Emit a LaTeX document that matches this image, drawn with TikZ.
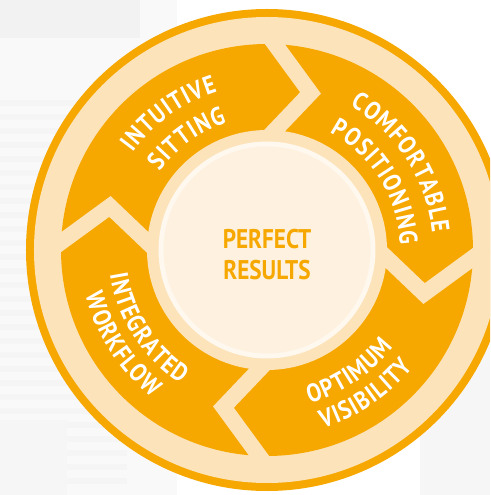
\documentclass[tikz,border=0pt]{standalone}
\usepackage{fontspec}
\setmainfont{PT Sans}
\newfontfamily\dinfont[FakeStretch=0.86]{PT Sans}
\usepackage{tikz}
\usetikzlibrary{calc,decorations.text}

\definecolor{ringorange}{HTML}{F6A800}
\definecolor{ringpeach}{HTML}{FDE3BA}
\definecolor{corefill}{HTML}{FEF1DF}
\definecolor{corerim}{HTML}{FEF8EF}

\newcommand{\arcfont}{\dinfont\bfseries\fontsize{25.5}{25.5}\selectfont}

\tikzset{
  gapline/.style={draw=ringpeach, line width=16pt, miter limit=10},
  arclabel/.style={decorate, decoration={text effects along path, text={#1}, text align=center,
    text effects/.cd, text along path, characters={text=white, font=\arcfont, inner sep=0pt},
    character widths={font=\arcfont, inner xsep=0.6pt}}},
}

\begin{document}
\begin{tikzpicture}[x=1pt, y=1pt]
    \useasboundingbox (-267,-245) rectangle (223,250);
    \clip (-267,-245) rectangle (223,250);

    % Blurred backdrop
    \fill[white] (-267,-245) rectangle (223,250);
    \fill[gray!5] (-267,-245) rectangle (-90,250);
    \fill[gray!10] (-267,250) rectangle (-127,212);
    \foreach \y in {150,136,...,-240}
        \fill[gray!8] (-267,\y) rectangle (-140,\y-6);
    \fill[gray!7] (153,-80) rectangle (223,-245);
    \fill[gray!7] (-267,-170) rectangle (-200,-245);

    % Rings
    \fill[ringorange] (0,0) circle (241);
    \fill[ringpeach] (0,0) circle (233);
    \fill[ringorange] (0,0) circle (206);

    % Chevron gaps between the four arrows
    \foreach \c [evaluate=\c as \a using \c-13.3, evaluate=\c as \b using \c-1.6] in {-2.2,87.8,177.8,267.8}
        \draw[gapline] ($(\a:163)!1.3!(\c:206)$) -- (\a:163) -- ($(\a:163)!1.3!(\b:120)$);

    % Centre
    \fill[ringpeach] (0,0) circle (120);
    \fill[corerim] (0,0) circle (108.5);
    \fill[corefill] (0,0) circle (103.5);
    \node[font=\dinfont\bfseries\fontsize{27}{31}\selectfont, text=ringorange, align=center] (perfect) at (0,-4.5) {PERFECT\\RESULTS};

    % Arrow labels (upper ones clockwise, lower ones anticlockwise)
    \path[arclabel=INTUITIVE] (170.7:166) arc[start angle=170.7, end angle=80.7, radius=166];
    \path[arclabel=SITTING] (170.8:133) arc[start angle=170.8, end angle=80.8, radius=133];
    \path[arclabel=COMFORTABLE] (78:166) arc[start angle=78, end angle=-12, radius=166];
    \path[arclabel=POSITIONING] (77:133) arc[start angle=77, end angle=-13, radius=133];
    \path[arclabel=OPTIMUM] (-101:159) arc[start angle=-101, end angle=-11, radius=159];
    \path[arclabel=VISIBILITY] (-100.7:187) arc[start angle=-100.7, end angle=-10.7, radius=187];
    \path[arclabel=INTEGRATED] (168:159) arc[start angle=168, end angle=258, radius=159];
    \path[arclabel=WORKFLOW] (168:187) arc[start angle=168, end angle=258, radius=187];
\end{tikzpicture}
\end{document}
